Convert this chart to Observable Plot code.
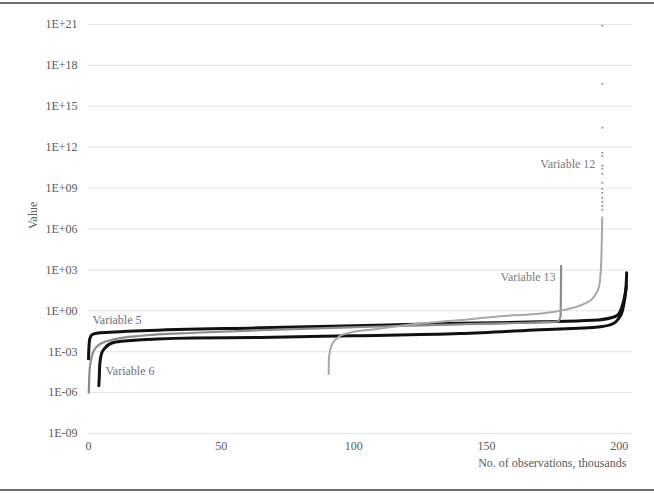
<!DOCTYPE html>
<html>
<head>
<meta charset="utf-8">
<script src="https://cdn.jsdelivr.net/npm/d3@7"></script>
<script src="https://cdn.jsdelivr.net/npm/@observablehq/plot@0.6"></script>
<style>
  html, body { margin: 0; padding: 0; background: #fff; }
  #chart { width: 654px; height: 494px; }
  #chart svg text { font-family: 'Liberation Serif', 'Times New Roman', serif; }
</style>
</head>
<body>
<div id="chart"></div>
<script>
// x: number of observations (thousands, sorted rank); y: value
const var5X = [0, 0.2, 0.5, 1.3, 3, 8, 20, 65, 100, 140, 170, 190, 197, 199.5, 201, 202, 202.6, 202.8];
const var5Y = [3.0e-4, 2.7e-3, 8.9e-3, 1.74e-2, 2.24e-2, 2.63e-2, 3.39e-2, 5.6e-2, 7.9e-2, 0.12, 0.155, 0.2, 0.31, 0.51, 1.95, 10.7, 68, 617];

const var6X = [3.9, 4.07, 4.26, 4.9, 6.4, 9.4, 14.7, 39.6, 64.8, 99.8, 140, 170, 193, 197.8, 199.7, 201.2, 202.2, 202.7];
const var6Y = [3.2e-6, 1.7e-5, 1.29e-4, 7.1e-4, 2.04e-3, 4.7e-3, 6.3e-3, 1.02e-2, 1.1e-2, 1.48e-2, 2.14e-2, 4.1e-2, 6.8e-2, 0.117, 0.26, 1.0, 10.7, 68];

const var13X = [0.1, 0.3, 0.5, 2, 4.5, 10, 20, 40, 65, 100, 140, 170, 177, 177.9, 178.1];
const var13Y = [1.0e-6, 1.7e-5, 6.9e-5, 1.17e-3, 3.8e-3, 8.3e-3, 1.48e-2, 2.45e-2, 3.8e-2, 6.2e-2, 0.102, 0.145, 0.17, 0.43, 2000];

const var12X = [90.5, 90.6, 91.8, 94.9, 98.7, 108.8, 117.6, 140.2, 157.8, 170.3, 180.4, 186.6, 189.8, 191.2, 192.4, 193.1, 193.4, 193.6];
const var12Y = [2.3e-5, 3.7e-4, 3.6e-3, 1.48e-2, 2.6e-2, 4.6e-2, 7.9e-2, 0.21, 0.43, 0.63, 1.32, 3.1, 7.5, 18, 60, 1200, 8.0e4, 7.1e6];

// scattered extreme values of Variable 12
const var12OutX = [193.6, 193.6, 193.6, 193.6, 193.6, 193.6, 193.6, 193.6, 193.6, 193.6, 193.6, 193.6, 193.6, 193.6, 193.6];
const var12OutY = [8.1e20, 4.5e16, 2.7e13, 3.9e11, 2.3e11, 4.4e10, 2.6e10, 1.1e10, 2.5e9, 8.9e8, 4.6e8, 1.95e8, 1.0e8, 5.0e7, 2.6e7];

const labelText = ["Variable 5", "Variable 6", "Variable 13", "Variable 12"];
const labelX = [1.5, 6.4, 176, 191];
const labelY = [0.19, 4e-5, 310, 5.8e10];

const xTicks = [0, 50, 100, 150, 200];
const yTicks = [1e-9, 1e-6, 1e-3, 1, 1e3, 1e6, 1e9, 1e12, 1e15, 1e18, 1e21];
const yTickLabels = ["1E-09", "1E-06", "1E-03", "1E+00", "1E+03", "1E+06", "1E+09", "1E+12", "1E+15", "1E+18", "1E+21"];

const xTitle = "No. of observations, thousands";
const yTitle = "Value";

const serif = "'Liberation Serif', 'Times New Roman', serif";
const rows = (xs, ys) => xs.map((x, i) => ({x, y: ys[i]}));
const s5 = rows(var5X, var5Y);
const s6 = rows(var6X, var6Y);
const s13 = rows(var13X, var13Y);
const s12 = rows(var12X, var12Y);
const s12out = rows(var12OutX, var12OutY);
const labels = labelText.map((t, i) => ({t, x: labelX[i], y: labelY[i]}));

const chart = Plot.plot({
  width: 654,
  height: 494,
  marginLeft: 88,
  marginRight: 22,
  marginTop: 24,
  marginBottom: 61,
  style: {fontFamily: serif, fontSize: "12px", color: "#595959", background: "#fff"},
  x: {domain: [0, 205]},
  y: {type: "log", domain: [1e-9, 1e21]},
  marks: [
    Plot.ruleY(yTicks, {stroke: "#e3e3e3", strokeWidth: 1}),
    Plot.axisX({ticks: xTicks, tickSize: 0, tickPadding: 8, label: null, fill: "#595959", fontFamily: serif}),
    Plot.axisY({ticks: yTicks, tickSize: 0, tickPadding: 11, label: null, fill: "#595959", fontFamily: serif,
      tickFormat: d => yTickLabels[yTicks.indexOf(d)]}),
    Plot.text([xTitle], {frameAnchor: "bottom-right", text: d => d, textAnchor: "end", dy: 33, dx: -6, fill: "#595959", fontFamily: serif}),
    Plot.text([yTitle], {frameAnchor: "left", text: d => d, rotate: -90, dx: -55, fill: "#595959", fontFamily: serif}),
    Plot.line(s5, {x: "x", y: "y", stroke: "#111", strokeWidth: 3, curve: "monotone-x"}),
    Plot.line(s6, {x: "x", y: "y", stroke: "#111", strokeWidth: 3, curve: "monotone-x"}),
    Plot.line(s13, {x: "x", y: "y", stroke: "#8c8c8c", strokeWidth: 2.2, curve: "monotone-x"}),
    Plot.line(s12, {x: "x", y: "y", stroke: "#a8a8a8", strokeWidth: 2, curve: "monotone-x"}),
    Plot.dot(s12out, {x: "x", y: "y", r: 1, fill: "#8c8c8c", stroke: null}),
    Plot.text(labels.slice(0, 2), {x: "x", y: "y", text: "t", textAnchor: "start", fill: "#6f6f78", fontSize: 12, fontFamily: serif}),
    Plot.text(labels.slice(2), {x: "x", y: "y", text: "t", textAnchor: "end", fill: "#7a7a7a", fontSize: 12, fontFamily: serif})
  ]
});

const svg = d3.select(chart);
svg.append("line").attr("x1", 0).attr("x2", 654).attr("y1", 3).attr("y2", 3).attr("stroke", "#404040").attr("stroke-width", 1.5);
svg.append("line").attr("x1", 0).attr("x2", 654).attr("y1", 490).attr("y2", 490).attr("stroke", "#404040").attr("stroke-width", 1.5);

document.getElementById("chart").appendChild(chart);
</script>
</body>
</html>
